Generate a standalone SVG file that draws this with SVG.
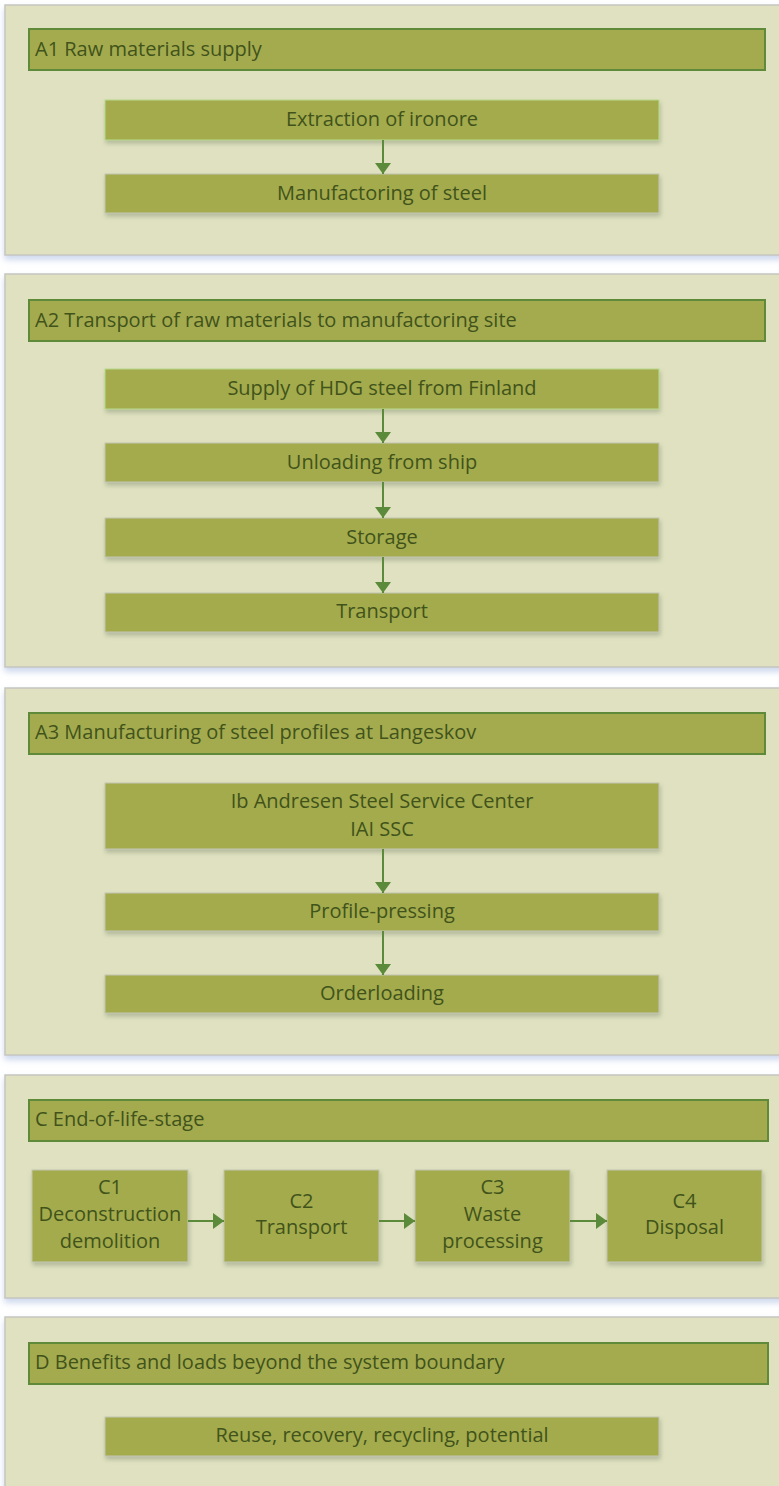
<svg xmlns="http://www.w3.org/2000/svg" width="779" height="1486" viewBox="0 0 779 1486">
<style>
text{font-family:"Open Sans","Liberation Sans",Arial,sans-serif;font-size:20px;fill:#41531a}
.panel{fill:#dfe1c0;stroke:#c6c6c0;stroke-width:1.5;filter:url(#pshadow)}
.hdr{fill:#a4ab4f;stroke:#5e8a3a;stroke-width:2}
.box{fill:#a3ab4e;stroke:#c4c6b4;stroke-width:1;filter:url(#bshadow)}
.box.first{stroke:#b9da8c}
.ht{text-anchor:start;dominant-baseline:central}
.bt{text-anchor:middle;dominant-baseline:central}
.con{stroke:#5b8a3a;stroke-width:2;fill:none;marker-end:url(#arr)}
</style>
<defs>
<filter id="pshadow" x="-5%" y="-5%" width="110%" height="120%">
<feDropShadow dx="0" dy="4" stdDeviation="3" flood-color="#a9bde0" flood-opacity="0.6"/>
</filter>
<filter id="bshadow" x="-5%" y="-20%" width="110%" height="150%">
<feDropShadow dx="1" dy="3" stdDeviation="2" flood-color="#7d8a70" flood-opacity="0.45"/>
</filter>
<marker id="arr" markerUnits="userSpaceOnUse" markerWidth="12" markerHeight="16" refX="11" refY="8" orient="auto">
<path d="M0,0 L11,8 L0,16 z" fill="#5b8a3a"/>
</marker>
</defs>
<rect width="779" height="1486" fill="#ffffff"/>

<g id="panel-A1">
<rect class="panel" x="5" y="5" width="790" height="250"/>
<rect class="hdr" x="29" y="29" width="736" height="41"/>
<text class="ht" x="35" y="48">A1 Raw materials supply</text>
</g>
<g id="node-extraction"><rect class="box first" x="105" y="100" width="554" height="40"/><text class="bt" x="382" y="118">Extraction of ironore</text></g>
<g id="node-manufactoring"><rect class="box" x="105" y="174" width="554" height="39"/><text class="bt" x="382" y="192">Manufactoring of steel</text></g>

<g id="panel-A2">
<rect class="panel" x="5" y="274" width="790" height="393"/>
<rect class="hdr" x="29" y="300" width="736" height="41"/>
<text class="ht" x="35" y="319">A2 Transport of raw materials to manufactoring site</text>
</g>
<g id="node-supply"><rect class="box first" x="105" y="369" width="554" height="40"/><text class="bt" x="382" y="387">Supply of HDG steel from Finland</text></g>
<g id="node-unloading"><rect class="box" x="105" y="443" width="554" height="39"/><text class="bt" x="382" y="461">Unloading from ship</text></g>
<g id="node-storage"><rect class="box" x="105" y="518" width="554" height="39"/><text class="bt" x="382" y="536">Storage</text></g>
<g id="node-transport"><rect class="box" x="105" y="593" width="554" height="39"/><text class="bt" x="382" y="610">Transport</text></g>

<g id="panel-A3">
<rect class="panel" x="5" y="688" width="790" height="367"/>
<rect class="hdr" x="29" y="713" width="736" height="41"/>
<text class="ht" x="35" y="731.5">A3 Manufacturing of steel profiles at Langeskov</text>
</g>
<g id="node-iai"><rect class="box" x="105" y="783" width="554" height="66"/><text class="bt" x="382" y="800">Ib Andresen Steel Service Center</text><text class="bt" x="382" y="828">IAI SSC</text></g>
<g id="node-profile"><rect class="box" x="105" y="893" width="554" height="38"/><text class="bt" x="382" y="910">Profile-pressing</text></g>
<g id="node-orderloading"><rect class="box" x="105" y="975" width="554" height="38"/><text class="bt" x="382" y="992">Orderloading</text></g>

<g id="panel-C">
<rect class="panel" x="5" y="1075" width="790" height="223"/>
<rect class="hdr" x="29" y="1100" width="739" height="41"/>
<text class="ht" x="35" y="1118.5">C End-of-life-stage</text>
</g>
<g id="node-c1"><rect class="box" x="32" y="1170" width="156" height="92"/><text class="bt" x="110" y="1186">C1</text><text class="bt" x="110" y="1213">Deconstruction</text><text class="bt" x="110" y="1240">demolition</text></g>
<g id="node-c2"><rect class="box" x="224" y="1170" width="155" height="92"/><text class="bt" x="301.5" y="1200">C2</text><text class="bt" x="301.5" y="1226">Transport</text></g>
<g id="node-c3"><rect class="box" x="415" y="1170" width="155" height="92"/><text class="bt" x="492.5" y="1186">C3</text><text class="bt" x="492.5" y="1213">Waste</text><text class="bt" x="492.5" y="1240">processing</text></g>
<g id="node-c4"><rect class="box" x="607" y="1170" width="155" height="92"/><text class="bt" x="684.5" y="1200">C4</text><text class="bt" x="684.5" y="1226">Disposal</text></g>

<g id="panel-D">
<rect class="panel" x="5" y="1317" width="790" height="190"/>
<rect class="hdr" x="29" y="1343" width="739" height="41"/>
<text class="ht" x="35" y="1361.5">D Benefits and loads beyond the system boundary</text>
</g>
<g id="node-reuse"><rect class="box" x="105" y="1417" width="554" height="39"/><text class="bt" x="382" y="1434.5">Reuse, recovery, recycling, potential</text></g>

<g id="connectors">
<line class="con" x1="383" y1="140" x2="383" y2="174"/>
<line class="con" x1="383" y1="409" x2="383" y2="443"/>
<line class="con" x1="383" y1="482" x2="383" y2="518"/>
<line class="con" x1="383" y1="557" x2="383" y2="593"/>
<line class="con" x1="383" y1="849" x2="383" y2="893"/>
<line class="con" x1="383" y1="931" x2="383" y2="975"/>
<line class="con" x1="188" y1="1221" x2="224" y2="1221"/>
<line class="con" x1="379" y1="1221" x2="415" y2="1221"/>
<line class="con" x1="570" y1="1221" x2="607" y2="1221"/>
</g>
</svg>
